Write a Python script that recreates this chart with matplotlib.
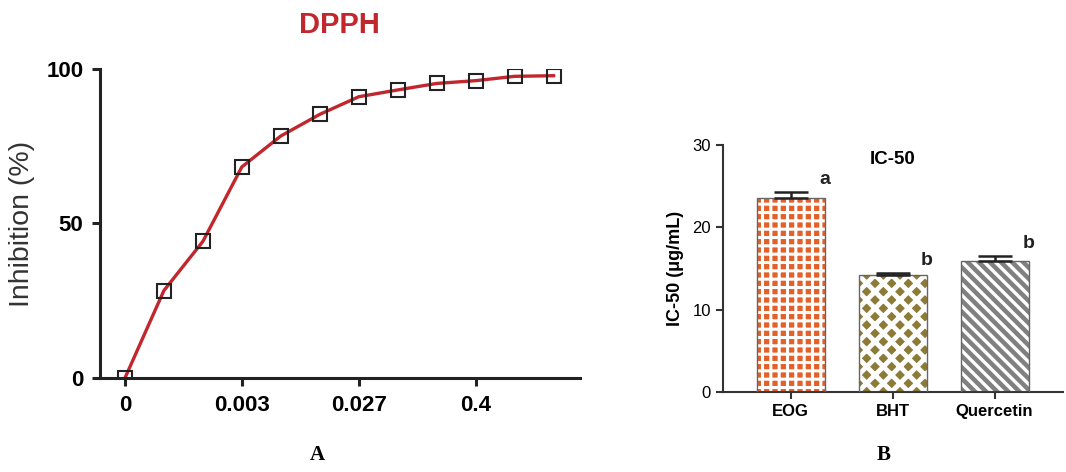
import matplotlib
matplotlib.use('Agg')
import matplotlib.pyplot as plt

plt.rcParams['font.family'] = ['Liberation Sans', 'DejaVu Sans']

# panel A: DPPH inhibition curve
conc_labels = ['0', '', '', '0.003', '', '', '0.027', '', '', '0.4', '', '']
inhibition = [0, 28.3, 44.2, 68.3, 78.3, 85.3, 91.0, 93.2, 95.3, 96.2, 97.6, 97.8]

# panel B: IC-50 bars
groups = ['EOG', 'BHT', 'Quercetin']
ic50 = [23.6, 14.2, 15.9]
ic50_err = [0.7, 0.2, 0.6]
letters = ['a', 'b', 'b']

red = '#C1272D'
fig = plt.figure(figsize=(10.66, 4.72), dpi=100)

# ---- A ----
ax1 = fig.add_axes([0.0938, 0.199, 0.450, 0.655])
xs = list(range(len(inhibition)))
ax1.plot(xs, inhibition, '-', color=red, lw=2.4, zorder=2)
ax1.plot(xs, inhibition, 's', ms=10, mfc='none', mec='#222222', mew=1.5, zorder=3)
ax1.set_xlim(-0.64, 11.67)
ax1.set_ylim(0, 100)
ax1.set_xticks([0, 3, 6, 9])
ax1.set_xticklabels([conc_labels[i] for i in [0, 3, 6, 9]])
ax1.set_yticks([0, 50, 100])
for s in ['top', 'right']:
    ax1.spines[s].set_visible(False)
for s in ['left', 'bottom']:
    ax1.spines[s].set_linewidth(2.2)
    ax1.spines[s].set_color('#222222')
ax1.tick_params(width=2.2, length=6, labelsize=16, color='#222222', pad=6)
for t in ax1.get_xticklabels() + ax1.get_yticklabels():
    t.set_fontweight('bold')
ax1.set_ylabel('Inhibition (%)', fontsize=20.5, color='#333333', labelpad=8)
ax1.set_title('DPPH', fontsize=21, fontweight='bold', color=red, pad=26)
fig.text(0.298, 0.025, 'A', family='Liberation Serif', fontweight='bold', fontsize=15, ha='center')

# ---- B ----
ax2 = fig.add_axes([0.678, 0.1695, 0.319, 0.5236])
styles = [('#E3602A', '++', 2.2), ('#8C7A37', 'xx', 3.5), ('#808080', '\\\\\\', 2.4)]
for i, (val, (fc, hatch, hlw)) in enumerate(zip(ic50, styles)):
    plt.rcParams['hatch.linewidth'] = hlw
    b = ax2.bar(i, val, width=0.667, color=fc, edgecolor='white', hatch=hatch, linewidth=0, zorder=2)
    for p in b:
        if hasattr(p, 'set_hatch_linewidth'):
            p.set_hatch_linewidth(hlw)
    ax2.bar(i, val, width=0.667, fill=False, edgecolor='#666666', linewidth=1.0, zorder=3)
    ax2.errorbar(i, val, yerr=[[0], [ic50_err[i]]], fmt='none', ecolor='#222222',
                 elinewidth=1.8, capsize=12, capthick=1.8, zorder=4)
    ax2.text(i + 0.33, val + ic50_err[i] + 0.5, letters[i], fontsize=14, fontweight='bold',
             ha='center', va='bottom', color='#222222')
ax2.set_xlim(-0.667, 2.67)
ax2.set_ylim(0, 30)
ax2.set_yticks([0, 10, 20, 30])
ax2.set_xticks(range(len(groups)))
ax2.set_xticklabels(groups, fontweight='bold', fontsize=12.5)
for s in ['top', 'right']:
    ax2.spines[s].set_visible(False)
for s in ['left', 'bottom']:
    ax2.spines[s].set_linewidth(1.5)
    ax2.spines[s].set_color('#333333')
ax2.tick_params(width=1.5, length=5, labelsize=12, color='#333333')
ax2.set_ylabel('IC-50 (\u03bcg/mL)', fontsize=13, fontweight='bold', labelpad=6)
ax2.text(0.5, 0.94, 'IC-50', transform=ax2.transAxes, fontsize=13.5, fontweight='bold',
         ha='center', va='center')
fig.text(0.829, 0.025, 'B', family='Liberation Serif', fontweight='bold', fontsize=15, ha='center')

fig.savefig('out.png', dpi=100)
